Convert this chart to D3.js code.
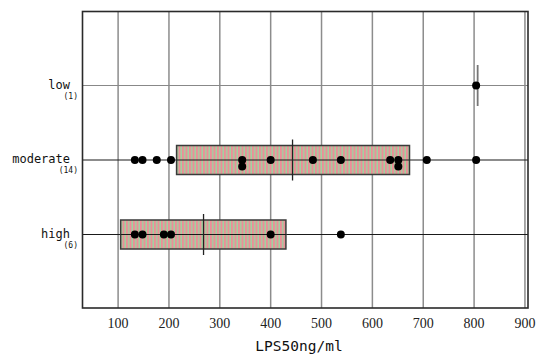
<!DOCTYPE html>
<html>
<head>
<meta charset="utf-8">
<script src="https://cdn.jsdelivr.net/npm/d3@7"></script>
<style>
  body { margin: 0; background: #fff; }
  svg { display: block; }
</style>
</head>
<body>
<svg id="chart" width="539" height="358"></svg>
<script>
// groups, top to bottom
var categories = ["low", "moderate", "high"];
var counts = [1, 14, 6];

// box summaries (LPS50ng/ml)
var q1s = [null, 215, 105];
var medians = [807, 443, 268];
var q3s = [null, 673, 430];

// individual observations per group
var lowPoints = [804];
var moderatePoints = [133, 148, 176, 204, 344, 344, 400, 483, 538, 635, 651, 651, 707, 804];
var highPoints = [133, 148, 190, 204, 400, 538];
var points = [lowPoints, moderatePoints, highPoints];

var tickValues = [100, 200, 300, 400, 500, 600, 700, 800, 900];
var xTitle = "LPS50ng/ml";

(function () {
var svg = d3.select("#chart");
var pLeft = 82.5, pRight = 528, pTop = 11.5, pBottom = 308;

var x = d3.scaleLinear().domain([30, 906]).range([pLeft, pRight]);
var y = d3.scaleLinear().domain([0, 4]).range([pTop - 0.5, pBottom + 1]);

// stripe fill for the boxes
var defs = svg.append("defs");
var pat = defs.append("pattern")
    .attr("id", "stripes")
    .attr("patternUnits", "userSpaceOnUse")
    .attr("width", 3.5).attr("height", 10);
pat.append("rect").attr("width", 3.5).attr("height", 10).attr("fill", "#ec8e98");
pat.append("rect").attr("x", 2).attr("width", 1.5).attr("height", 10).attr("fill", "#9fd3a0");

// vertical grid lines
svg.append("g").selectAll("line")
    .data(tickValues)
    .enter().append("line")
    .attr("x1", function (d) { return x(d); })
    .attr("x2", function (d) { return x(d); })
    .attr("y1", pTop).attr("y2", pBottom)
    .attr("stroke", "#8c8c8c").attr("stroke-width", 1.5);

// horizontal row lines
svg.append("g").selectAll("line")
    .data(categories)
    .enter().append("line")
    .attr("x1", pLeft).attr("x2", pRight)
    .attr("y1", function (d, i) { return y(i + 1); })
    .attr("y2", function (d, i) { return y(i + 1); })
    .attr("stroke", function (d, i) { return i == 0 ? "#888" : "#1a1a1a"; })
    .attr("stroke-width", 1.2);

// boxes
var boxH = 29;
categories.forEach(function (c, i) {
    var cy = y(i + 1);
    if (q1s[i] != null) {
        svg.append("rect")
            .attr("x", x(q1s[i])).attr("y", cy - boxH / 2)
            .attr("width", x(q3s[i]) - x(q1s[i])).attr("height", boxH)
            .attr("fill", "url(#stripes)")
            .attr("stroke", "#3a3a3a").attr("stroke-width", 1.5);
        // row line over the box fill
        svg.append("line")
            .attr("x1", x(q1s[i])).attr("x2", x(q3s[i]))
            .attr("y1", cy).attr("y2", cy)
            .attr("stroke", "#1a1a1a").attr("stroke-width", 1.2);
    }
});

// medians
svg.append("g").selectAll("line")
    .data(medians)
    .enter().append("line")
    .attr("x1", function (d) { return x(d); })
    .attr("x2", function (d) { return x(d); })
    .attr("y1", function (d, i) { return y(i + 1) - 20.5; })
    .attr("y2", function (d, i) { return y(i + 1) + 20.5; })
    .attr("stroke", function (d, i) { return i == 0 ? "#777" : "#222"; })
    .attr("stroke-width", function (d, i) { return i == 0 ? 1.8 : 1.3; });

// dots, duplicates stacked downwards
points.forEach(function (pts, i) {
    var seen = {};
    var dots = pts.map(function (v) {
        var k = seen[v] || 0;
        seen[v] = k + 1;
        return { v: v, k: k };
    });
    svg.append("g").selectAll("circle")
        .data(dots)
        .enter().append("circle")
        .attr("cx", function (d) { return x(d.v); })
        .attr("cy", function (d) { return y(i + 1) + d.k * 6.5; })
        .attr("r", 4)
        .attr("fill", "#000");
});

// frame
svg.append("rect")
    .attr("x", pLeft).attr("y", pTop)
    .attr("width", pRight - pLeft).attr("height", pBottom - pTop)
    .attr("fill", "none").attr("stroke", "#2a2a2a").attr("stroke-width", 1.6);

// tick labels
svg.append("g").selectAll("text")
    .data(tickValues)
    .enter().append("text")
    .attr("x", function (d) { return x(d); })
    .attr("y", 328)
    .attr("text-anchor", "middle")
    .attr("font-family", "Liberation Serif")
    .attr("font-size", 14)
    .attr("fill", "#222")
    .text(function (d) { return d; });

// category labels and counts
svg.append("g").selectAll("text")
    .data(categories)
    .enter().append("text")
    .attr("x", 70)
    .attr("y", function (d, i) { return y(i + 1) + 3; })
    .attr("text-anchor", "end")
    .attr("font-family", "DejaVu Sans Mono")
    .attr("font-size", 12)
    .attr("fill", "#111")
    .text(function (d) { return d; });

svg.append("g").selectAll("text")
    .data(counts)
    .enter().append("text")
    .attr("x", 78)
    .attr("y", function (d, i) { return y(i + 1) + 13; })
    .attr("text-anchor", "end")
    .attr("font-family", "DejaVu Sans Mono")
    .attr("font-size", 8)
    .attr("fill", "#111")
    .text(function (d) { return "(" + d + ")"; });

// x title
svg.append("text")
    .attr("x", 299).attr("y", 351)
    .attr("text-anchor", "middle")
    .attr("font-family", "DejaVu Sans Mono")
    .attr("font-size", 14.5)
    .attr("fill", "#111")
    .text(xTitle);
})();
</script>
</body>
</html>
